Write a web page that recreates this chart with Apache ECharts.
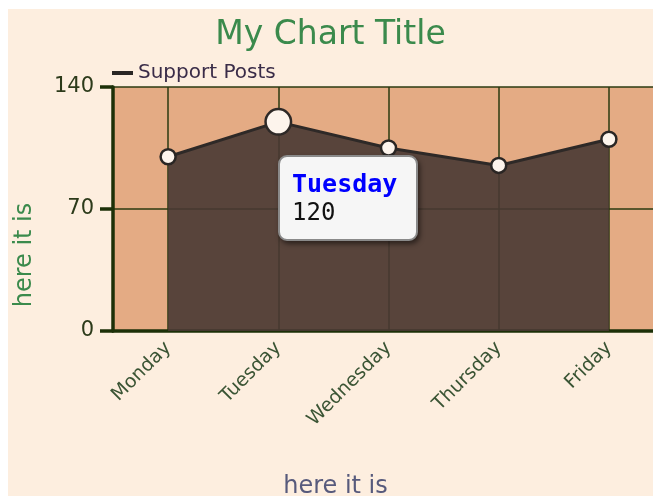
<!DOCTYPE html>
<html lang="en">
    <head>
        <meta charset="utf-8">
        <title>eCharts</title>
        <script src="https://cdn.jsdelivr.net/npm/echarts@6/dist/echarts.min.js"></script>
        <style>
            body { margin: 0; background: #ffffff; }
            #main { position: absolute; left: 8px; top: 9px; width: 645px; height: 487px; }
        </style>
    </head>
    <body>
        <div id="main"></div>

        <script type="text/javascript">

            let days = ['Monday', 'Tuesday', 'Wednesday', 'Thursday', 'Friday'];
            let posts = [100, 120, 105, 95, 110];
            let yTicks = [0, 70, 140];

            let myChart = echarts.init(document.getElementById('main'));

            let options = {
                animation: false,
                backgroundColor: '#fdeedf',
                textStyle: { fontFamily: 'DejaVu Sans' },
                title: {
                    text: 'My Chart Title',
                    left: 'center',
                    top: 5,
                    textStyle: { color: '#3b8a4c', fontSize: 33, fontWeight: 'normal' }
                },
                legend: {
                    left: 104,
                    top: 54,
                    padding: 0,
                    icon: 'rect',
                    itemWidth: 21,
                    itemHeight: 4,
                    itemGap: 6,
                    itemStyle: { color: '#2a2624', borderWidth: 0 },
                    textStyle: { color: '#3a2c48', fontSize: 20 },
                    data: ['Support Posts']
                },
                grid: {
                    left: 105, top: 78, right: -11, bottom: 165,
                    outerBoundsMode: 'none',
                    show: true, backgroundColor: '#e4ab84', borderWidth: 0
                },
                tooltip: {
                    trigger: 'item',
                    alwaysShowContent: true,
                    position: [270, 146],
                    backgroundColor: '#f6f6f6',
                    borderColor: '#8a8a8a',
                    borderWidth: 2,
                    borderRadius: 9,
                    padding: [13, 12, 13, 12],
                    extraCssText: 'box-shadow: 2px 3px 5px rgba(0,0,0,0.5); width: 112px;',
                    formatter: function (p) {
                        return '<div style="font-family:DejaVu Sans Mono;font-weight:bold;color:#0000ff;font-size:25px;line-height:28px">' + p.name + '</div>' +
                               '<div style="font-family:DejaVu Sans Mono;color:#111;font-size:24px;line-height:28px">' + p.value + '</div>';
                    }
                },
                xAxis: {
                    type: 'category',
                    data: days,
                    boundaryGap: true,
                    name: 'here it is',
                    nameLocation: 'middle',
                    nameGap: 144,
                    nameTextStyle: { color: '#575a7c', fontSize: 24, padding: [0, 106, 0, 0] },
                    axisLine: { lineStyle: { color: '#1c3008', width: 3.5 } },
                    axisTick: { alignWithLabel: true, length: 11, lineStyle: { color: '#1c3008', width: 3.5 } },
                    axisLabel: { rotate: 45, color: '#3a5434', fontSize: 19, margin: 14 },
                    splitLine: { show: true, alignWithLabel: true, lineStyle: { color: '#2b3a10', width: 1.5 } }
                },
                yAxis: {
                    type: 'value',
                    min: yTicks[0],
                    max: yTicks[2],
                    interval: yTicks[1],
                    name: 'here it is',
                    nameLocation: 'middle',
                    nameGap: 76,
                    nameTextStyle: { color: '#3b8a4c', fontSize: 24, padding: [0, 92, 0, 0] },
                    axisLine: { show: true, lineStyle: { color: '#1c3008', width: 3.5 } },
                    axisTick: { show: true, length: 13, lineStyle: { color: '#1c3008', width: 3.5 } },
                    axisLabel: { color: '#2c3a1a', fontSize: 21, margin: 19 },
                    splitLine: { show: true, lineStyle: { color: '#2b3a10', width: 1.5 } }
                },
                series: [{
                    name: 'Support Posts',
                    type: 'line',
                    data: posts,
                    symbol: 'circle',
                    symbolSize: 15,
                    color: '#2a2624',
                    itemStyle: { color: '#fdf4ec', borderColor: '#2a2624', borderWidth: 2.5 },
                    lineStyle: { color: '#2a2624', width: 3 },
                    areaStyle: { color: '#42342f', opacity: 0.9 },
                    emphasis: { scale: 1.7, focus: 'none', lineStyle: { width: 3 }, itemStyle: { color: '#fdf4ec' } },
                    z: 3
                }]
            };

            myChart.setOption(options);
            myChart.dispatchAction({ type: 'highlight', seriesIndex: 0, dataIndex: 1 });
            myChart.dispatchAction({ type: 'showTip', seriesIndex: 0, dataIndex: 1 });

        </script>
    </body>
</html>
